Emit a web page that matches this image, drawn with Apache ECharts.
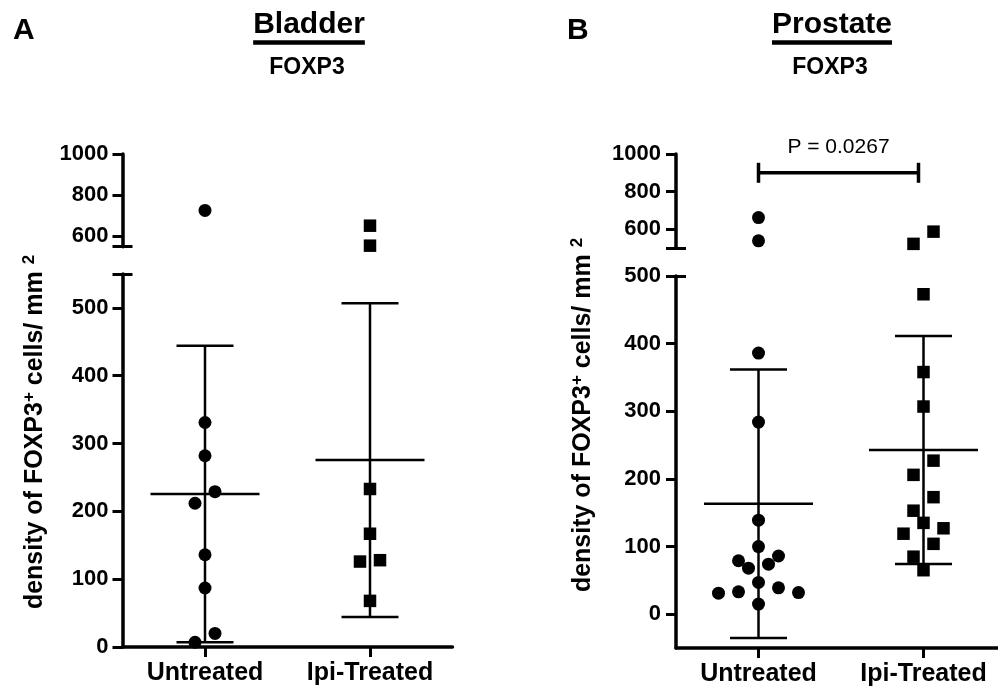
<!DOCTYPE html>
<html><head><meta charset="utf-8">
<script src="https://cdn.jsdelivr.net/npm/echarts@6/dist/echarts.min.js"></script>
<style>html,body{margin:0;padding:0;background:#fff}#c{width:998px;height:692px}</style>
</head><body><div id="c"></div>
<script>
// ---------------- data ----------------
const categories = ['Untreated', 'Ipi-Treated'];
const bladderUntreated = [726, 331, 282, 229, 212, 136, 87, 20, 7];
const bladderIpi = [652, 555, 233, 167, 128, 126, 68];
const prostateUntreated = [662, 538, 386, 284, 139, 100, 86, 79, 74, 68, 47, 39, 33, 32, 31, 15];
const prostateIpi = [587, 522, 473, 358, 307, 227, 206, 173, 153, 135, 127, 119, 104, 85, 65];
const upperTickLabels = [600, 800, 1000];
const lowerTickLabels = [0, 100, 200, 300, 400, 500];
const panelLetters = ['A', 'B'];
const panelTitles = ['Bladder', 'Prostate'];
const markerName = 'FOXP3';
const pValueText = 'P = 0.0267';
const pBracketValue = 900;

// ---------------- layout ----------------
const FONT = '"Liberation Sans", Arial, Helvetica, sans-serif';
const PX_PER_CAT = 165;
const panels = [
  { left: 122.5, width: 330, up: [154, 246.7], low: [274, 647], upRange: [550, 1000], lowRange: [0, 550], brk: 550,
    groups: [bladderUntreated, bladderIpi], letterX: 13, titleX: 309, yTitleX: 35, yTitleY: 432, labelMargin: 14 },
  { left: 676, width: 322, up: [154, 248], low: [276, 648], upRange: [500, 1000], lowRange: [-50, 500], brk: 500,
    groups: [prostateUntreated, prostateIpi], letterX: 567, titleX: 832, yTitleX: 583, yTitleY: 415, labelMargin: 15 }
];
const symbols = ['circle', 'rect'];
const symbolSizes = [13, 12.5];

function mean(a) { return a.reduce((s, v) => s + v, 0) / a.length; }
function sd(a) { const m = mean(a); return Math.sqrt(a.reduce((s, v) => s + (v - m) * (v - m), 0) / (a.length - 1)); }

// simple row-based beeswarm: spreads points with close values horizontally
function swarm(values, catIdx, pxPerUnit, rowH, stepPx) {
  const idx = values.map((v, i) => i).sort((a, b) => values[b] - values[a]);
  const out = [];
  let row = [], startPx = null;
  const flush = () => {
    const n = row.length;
    row.forEach((i, k) => {
      let slot;
      if (n % 2 === 1) slot = k === 0 ? 0 : (k % 2 === 1 ? Math.ceil(k / 2) : -Math.ceil(k / 2));
      else { const m = Math.floor(k / 2) + 0.5; slot = k % 2 === 0 ? m : -m; }
      out.push([catIdx + slot * stepPx / PX_PER_CAT, values[i]]);
    });
    row = [];
  };
  idx.forEach(i => {
    const px = values[i] * pxPerUnit;
    if (row.length && startPx - px >= rowH) flush();
    if (!row.length) startPx = px;
    row.push(i);
  });
  flush();
  return out;
}

const grid = [], xAxis = [], yAxis = [], series = [], graphic = [];
const axisLineStyle = { color: '#000', width: 3.5 };

panels.forEach((p, pi) => {
  const segs = [
    { top: p.up[0], bottom: p.up[1], range: p.upRange, isUpper: true },
    { top: p.low[0], bottom: p.low[1], range: p.lowRange, isUpper: false }
  ];
  segs.forEach((s) => {
    const g = grid.length;
    grid.push({ left: p.left, top: s.top, width: p.width, height: s.bottom - s.top });
    xAxis.push({
      type: 'value', gridIndex: g, min: -0.5, max: -0.5 + p.width / PX_PER_CAT, show: !s.isUpper,
      splitLine: { show: false },
      axisLine: { show: true, onZero: false, lineStyle: axisLineStyle },
      axisTick: { show: true, customValues: [0, 1], length: 10, lineStyle: { color: '#000', width: 3 } },
      axisLabel: { show: true, customValues: [0, 1], formatter: v => categories[Math.round(v)],
        fontSize: 25, fontWeight: 'bold', fontFamily: FONT, color: '#000', margin: 14 }
    });
    const tickVals = s.isUpper ? [p.brk].concat(upperTickLabels) : lowerTickLabels.concat([p.brk]);
    const labVals = s.isUpper ? upperTickLabels : lowerTickLabels;
    yAxis.push({
      type: 'value', gridIndex: g, min: s.range[0], max: s.range[1], position: 'left',
      splitLine: { show: false },
      axisLine: { show: true, onZero: false, lineStyle: axisLineStyle },
      axisTick: { show: true, customValues: tickVals, length: 10, lineStyle: { color: '#000', width: 3 } },
      axisLabel: { show: true, customValues: labVals, formatter: v => String(v), fontSize: 22, fontWeight: 'bold', fontFamily: FONT,
        color: '#000', margin: p.labelMargin }
    });
    // overlay axis: inner half of the break caps
    yAxis.push({
      type: 'value', gridIndex: g, min: s.range[0], max: s.range[1], position: 'left', offset: 0,
      splitLine: { show: false }, axisLine: { show: false, onZero: false }, axisLabel: { show: false },
      axisTick: { show: true, inside: true, customValues: [p.brk], length: 10, lineStyle: { color: '#000', width: 3 } }
    });
    const pxPerUnit = (s.bottom - s.top) / (s.range[1] - s.range[0]);
    p.groups.forEach((vals, ci) => {
      const segVals = vals.filter(v => s.isUpper ? v >= p.brk : v < p.brk);
      if (!segVals.length) return;
      series.push({
        type: 'scatter', xAxisIndex: g, yAxisIndex: yAxis.length - 2, symbol: symbols[ci], symbolSize: symbolSizes[ci],
        itemStyle: { color: '#000', opacity: 1 }, z: 5, clip: false, silent: true,
        data: swarm(segVals, ci, pxPerUnit, 15, 20)
      });
    });
    if (!s.isUpper) {
      series.push({
        type: 'custom', xAxisIndex: g, yAxisIndex: yAxis.length - 2, z: 3, clip: false, silent: true,
        data: p.groups.map((vals, ci) => [ci, mean(vals), sd(vals)]),
        renderItem: (params, api) => {
          const x = api.value(0), m = api.value(1), d = api.value(2);
          const c = api.coord([x, m]), t = api.coord([x, m + d]), b = api.coord([x, m - d]);
          const st = { stroke: '#000', lineWidth: 2.5 };
          return { type: 'group', children: [
            { type: 'line', shape: { x1: c[0] - 54.5, y1: c[1], x2: c[0] + 54.5, y2: c[1] }, style: st },
            { type: 'line', shape: { x1: t[0], y1: t[1], x2: b[0], y2: b[1] }, style: st },
            { type: 'line', shape: { x1: t[0] - 28.5, y1: t[1], x2: t[0] + 28.5, y2: t[1] }, style: st },
            { type: 'line', shape: { x1: b[0] - 28.5, y1: b[1], x2: b[0] + 28.5, y2: b[1] }, style: st }
          ] };
        }
      });
    } else if (pi === 1) {
      series.push({
        type: 'custom', xAxisIndex: g, yAxisIndex: yAxis.length - 2, z: 3, clip: false, silent: true,
        data: [[0, 1, pBracketValue]],
        renderItem: (params, api) => {
          const a = api.coord([api.value(0), api.value(2)]), b = api.coord([api.value(1), api.value(2)]);
          const st = { stroke: '#000', lineWidth: 3.5 };
          const bx = b[0] - 5;
          return { type: 'group', children: [
            { type: 'line', shape: { x1: a[0], y1: a[1], x2: bx, y2: b[1] }, style: st },
            { type: 'line', shape: { x1: a[0], y1: a[1] - 10, x2: a[0], y2: a[1] + 10 }, style: st },
            { type: 'line', shape: { x1: bx, y1: b[1] - 10, x2: bx, y2: b[1] + 10 }, style: st },
            { type: 'text', x: (a[0] + bx) / 2, y: a[1] - 26,
              style: { text: pValueText, font: '21px ' + FONT, fill: '#000', textAlign: 'center', textVerticalAlign: 'middle' } }
          ] };
        }
      });
    }
  });

  // panel letter, title, marker, y title
  graphic.push({ type: 'text', x: p.letterX, y: 31,
    style: { text: panelLetters[pi], font: 'bold 30px ' + FONT, fill: '#000', textAlign: 'left', textVerticalAlign: 'middle' } });
  graphic.push({ type: 'text', x: p.titleX, y: 25,
    style: { text: panelTitles[pi], font: 'bold 30px ' + FONT, fill: '#000', textAlign: 'center', textVerticalAlign: 'middle' } });
  graphic.push({ type: 'text', x: p.titleX - 2, y: 68,
    style: { text: markerName, font: 'bold 23px ' + FONT, fill: '#000', textAlign: 'center', textVerticalAlign: 'middle' } });
  graphic.push({ type: 'text', x: p.yTitleX, y: p.yTitleY, rotation: Math.PI / 2,
    style: { text: 'density of FOXP3{sup|+} cells/ mm {sup|2}', font: 'bold 25px ' + FONT, fill: '#000',
      textAlign: 'center', textVerticalAlign: 'middle',
      rich: { sup: { fontSize: 17, fontWeight: 'bold', fontFamily: FONT, fill: '#000', verticalAlign: 'top', padding: [0, 0, 12, 0] } } } });
});

const chart = echarts.init(document.getElementById('c'), null, { renderer: 'canvas' });
chart.setOption({ animation: false, backgroundColor: '#fff', grid, xAxis, yAxis, series, graphic });

setTimeout(() => {
  const extra = [];
  panels.forEach((p, pi) => {
    const w = echarts.format.getTextRect ? echarts.format.getTextRect(panelTitles[pi], 'bold 30px ' + FONT).width : 120;
    extra.push({ type: 'line', shape: { x1: p.titleX - w / 2, y1: 42.5, x2: p.titleX + w / 2, y2: 42.5 },
      style: { stroke: '#000', lineWidth: 4.5 } });
  });
  chart.setOption({ graphic: graphic.concat(extra) });
}, 0);
</script></body></html>
